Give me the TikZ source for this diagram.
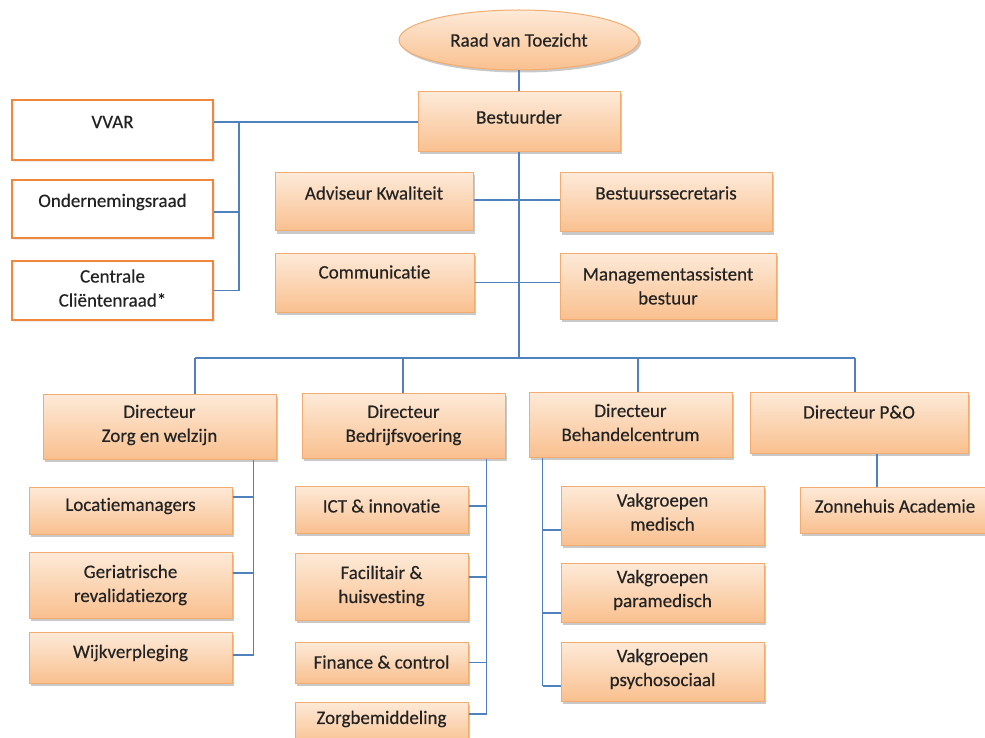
\documentclass[tikz,border=0pt]{standalone}
\usepackage{fontspec}
\setmainfont{Carlito}[Ligatures={NoCommon}, BoldFont=Carlito, BoldFeatures={FakeBold=0.35}]
\usetikzlibrary{shapes.geometric,shadows,calc}
\definecolor{boxtop}{RGB}{253,234,216}
\definecolor{boxbot}{RGB}{249,192,143}
\definecolor{boxline}{RGB}{243,172,112}
\definecolor{wline}{RGB}{240,135,60}
\definecolor{conn}{RGB}{79,129,189}
\definecolor{txtc}{RGB}{35,35,35}
\tikzset{
  obox/.style={draw=boxline, line width=1pt, top color=boxtop, bottom color=boxbot, inner sep=0pt,
    drop shadow={shadow xshift=2pt, shadow yshift=-2.5pt, opacity=0.35, fill=black!60}},
  wbox/.style={draw=wline, line width=2.6pt, fill=white, inner sep=0pt,
    drop shadow={shadow xshift=2pt, shadow yshift=-2pt, opacity=0.15, fill=black!50}},
  txt/.style={align=center, text=txtc, inner sep=0pt, font=\fontsize{19}{24}\selectfont\bfseries},
  conline/.style={draw=conn, line width=1.3pt},
}
\newcommand\mkbox[8]{% style, name, x1,y1,x2,y2, ty, text
  \node[#1, minimum width={#5-#3}, minimum height={#6-#4}] (#2) at ({(#3+#5)/2},{(#4+#6)/2}) {};
  \node[txt] (#2t) at ({(#3+#5)/2},#7) {#8};}
\begin{document}
\begin{tikzpicture}[x=1pt,y=-1pt]
\clip (0,0) rectangle (985,738);
\fill[white] (0,0) rectangle (985,738);

% ellipse
\node[ellipse, draw=boxline, line width=1pt, top color=boxtop, bottom color=boxbot,
  minimum width=240pt, minimum height=60pt, inner sep=0pt,
  drop shadow={shadow xshift=2pt, shadow yshift=-2.5pt, opacity=0.35, fill=black!60}] (rvt) at (519,40) {};
\node[txt] (rvtt) at (519,40) {Raad van Toezicht};

\mkbox{obox}{best}{418}{92}{620}{152}{117}{Bestuurder}
\mkbox{wbox}{vvar}{12}{100}{213}{160}{122}{VVAR}
\mkbox{wbox}{or}{12}{180}{213}{238}{202}{Ondernemingsraad}
\mkbox{wbox}{ccr}{12}{261}{213}{320}{288}{\fontsize{19}{20}\selectfont\bfseries Centrale\\Cliëntenraad*}
\mkbox{obox}{adv}{275}{173}{473}{231}{193}{Adviseur Kwaliteit}
\mkbox{obox}{bsec}{560}{173}{772}{232}{193}{Bestuurssecretaris}
\mkbox{obox}{comm}{275}{253}{474}{312}{272}{Communicatie}
\mkbox{obox}{mgmt}{560}{253}{776}{319}{286}{\fontsize{19}{28}\selectfont\bfseries Managementassistent\\bestuur}

\mkbox{obox}{dzw}{43}{394}{276}{459}{425}{Directeur\\Zorg en welzijn}
\mkbox{obox}{dbv}{302}{393}{505}{458}{425}{Directeur\\Bedrijfsvoering}
\mkbox{obox}{dbc}{529}{392}{732}{457}{422.5}{\fontsize{19}{23}\selectfont\bfseries Directeur\\Behandelcentrum}
\mkbox{obox}{dpo}{750}{392}{968}{453}{412}{Directeur P\&O}

\mkbox{obox}{loc}{29}{487}{232}{534}{506}{Locatiemanagers}
\mkbox{obox}{ger}{29}{552}{232}{618}{585}{\fontsize{19}{28}\selectfont\bfseries Geriatrische\\revalidatiezorg}
\mkbox{obox}{wijk}{29}{632}{232}{683}{653}{Wijkverpleging}

\mkbox{obox}{ict}{295}{486}{468}{533}{506}{ICT \& innovatie}
\mkbox{obox}{fac}{295}{553}{468}{620}{586}{\fontsize{19}{28}\selectfont\bfseries Facilitair \&\\huisvesting}
\mkbox{obox}{fin}{295}{642}{468}{683}{662}{Finance \& control}
\mkbox{obox}{zb}{295}{702}{468}{745}{719}{Zorgbemiddeling}

\mkbox{obox}{vm}{561}{486}{764}{545}{512}{\fontsize{19}{20}\selectfont\bfseries Vakgroepen\\medisch}
\mkbox{obox}{vp}{561}{563}{764}{622}{590}{\fontsize{19}{19}\selectfont\bfseries Vakgroepen\\paramedisch}
\mkbox{obox}{vps}{561}{642}{764}{701}{669}{\fontsize{19}{19}\selectfont\bfseries Vakgroepen\\psychosociaal}

\mkbox{obox}{za}{800}{487}{990}{533}{506}{Zonnehuis Academie}

% connectors
\coordinate (bus) at (519,358);
\coordinate (lbus) at (239,122);
\draw[conline] (rvt.south) -- (best.north);
\draw[conline] (best.south) -- (bus);
\draw[conline] ([yshift=8pt]vvar.east) -- ([yshift=8pt]vvar.east -| best.west);
\draw[conline] (lbus) -- (lbus |- ccr.east);
\draw[conline] ([yshift=-3pt]or.east) -- ([yshift=-3pt]or.east -| lbus);
\draw[conline] (ccr.east) -- (ccr.east -| lbus);
\draw[conline] ([yshift=2pt]adv.east) -- ([yshift=2pt]adv.east -| bsec.west);
\draw[conline] (comm.east) -- (comm.east -| mgmt.west);

\coordinate (b1) at (195,358);
\coordinate (b2) at (403,358);
\coordinate (b3) at (638,358);
\coordinate (b4) at (855,358);
\draw[conline] (b1) -- (b4);
\draw[conline] (b1) -- (b1 |- dzw.north);
\draw[conline] (b2) -- (b2 |- dbv.north);
\draw[conline] (b3) -- (b3 |- dbc.north);
\draw[conline] (b4) -- (b4 |- dpo.north);

% Zorg en welzijn
\coordinate (v1) at ([xshift=-23pt]dzw.south east);
\draw[conline] (v1) -- ([yshift=2.5pt]wijk.east -| v1);
\draw[conline] ([yshift=13.5pt]loc.east) -- ([yshift=13.5pt]loc.east -| v1);
\draw[conline] ([yshift=12pt]ger.east) -- ([yshift=12pt]ger.east -| v1);
\draw[conline] ([yshift=2.5pt]wijk.east) -- ([yshift=2.5pt]wijk.east -| v1);

% Bedrijfsvoering
\coordinate (v2) at ([xshift=-19pt]dbv.south east);
\draw[conline] (v2) -- ([yshift=9.5pt]zb.east -| v2);
\draw[conline] ([yshift=3.5pt]ict.east) -- ([yshift=3.5pt]ict.east -| v2);
\draw[conline] ([yshift=9.5pt]fac.east) -- ([yshift=9.5pt]fac.east -| v2);
\draw[conline] (fin.east) -- (fin.east -| v2);
\draw[conline] ([yshift=9.5pt]zb.east) -- ([yshift=9.5pt]zb.east -| v2);

% Behandelcentrum
\coordinate (v3) at ([xshift=14pt]dbc.south west);
\draw[conline] (v3) -- ([yshift=-14.5pt]vps.west -| v3);
\draw[conline] ([yshift=-14.5pt]vm.west) -- ([yshift=-14.5pt]vm.west -| v3);
\draw[conline] ([yshift=-20.5pt]vp.west) -- ([yshift=-20.5pt]vp.west -| v3);
\draw[conline] ([yshift=-14.5pt]vps.west) -- ([yshift=-14.5pt]vps.west -| v3);

% P&O
\draw[conline] ([xshift=-18pt]za.north) -- ([xshift=-18pt]za.north |- dpo.south);
\end{tikzpicture}
\end{document}
